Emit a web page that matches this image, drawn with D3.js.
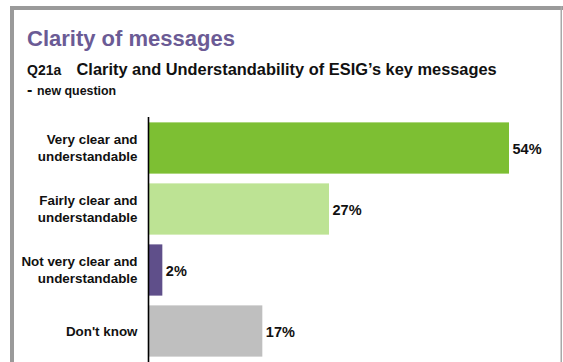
<!DOCTYPE html>
<html>
<head>
<meta charset="utf-8">
<script src="https://cdn.jsdelivr.net/npm/d3@7"></script>
<style>
  html, body { margin: 0; padding: 0; background: #ffffff; }
  svg { display: block; font-family: "Liberation Sans", Arial, sans-serif; }
</style>
</head>
<body>
<svg id="chart" width="563" height="362"></svg>
<script>
// Survey answers (Q21a), share of respondents in percent
const categories = [
  "Very clear and\nunderstandable",
  "Fairly clear and\nunderstandable",
  "Not very clear and\nunderstandable",
  "Don't know"
];
const values = [54, 27, 2, 17];
const barColors = ["#7dbf33", "#bde394", "#5f4f8a", "#bfbfbf"];

const titleText = "Clarity of messages";
const questionCode = "Q21a";
const questionText = "Clarity and Understandability of ESIG\u2019s key messages";
const noteText = "new question";

const svg = d3.select("#chart");

// slide frame (left, top and right edges)
svg.append("rect").attr("x", 10).attr("y", 6).attr("width", 4).attr("height", 360).attr("fill", "#9a9a9a");
svg.append("rect").attr("x", 10).attr("y", 6).attr("width", 553).attr("height", 4).attr("fill", "#9a9a9a");
svg.append("rect").attr("x", 560.5).attr("y", 6).attr("width", 1.5).attr("height", 360).attr("fill", "#a8a8a8");

// headings
svg.append("text").attr("x", 27).attr("y", 46)
  .attr("font-size", 22).attr("font-weight", "bold").attr("fill", "#6b5b95")
  .text(titleText);

const sub = svg.append("text").attr("x", 27).attr("y", 75).attr("font-weight", "bold").attr("fill", "#111");
sub.append("tspan").attr("font-size", 14).text(questionCode);
sub.append("tspan").attr("x", 76.5).attr("font-size", 16.4).text(questionText);

const note = svg.append("text").attr("x", 27).attr("y", 95).attr("font-weight", "bold").attr("fill", "#111");
note.append("tspan").attr("font-size", 16).text("-");
note.append("tspan").attr("x", 37).attr("font-size", 12.4).text(noteText);

// scales
const x = d3.scaleLinear().domain([0, 54]).range([149, 509]);
const y = d3.scaleBand().domain(categories).range([117.5, 361.5])
  .paddingInner(0.16).paddingOuter(0.08);

// bars
svg.append("g").selectAll("rect")
  .data(values)
  .join("rect")
  .attr("x", x(0))
  .attr("y", (d, i) => y(categories[i]))
  .attr("width", d => x(d) - x(0))
  .attr("height", y.bandwidth())
  .attr("fill", (d, i) => barColors[i]);

// value labels
svg.append("g").selectAll("text")
  .data(values)
  .join("text")
  .attr("x", d => x(d) + 3.5)
  .attr("y", (d, i) => y(categories[i]) + y.bandwidth() / 2 + 6)
  .attr("font-size", 14.5).attr("font-weight", "bold").attr("fill", "#111")
  .text(d => d + "%");

// category axis
const axis = svg.append("g").attr("transform", "translate(148.5,0)")
  .call(d3.axisLeft(y).tickSize(0).tickPadding(11).tickFormat(""));
axis.select(".domain").attr("stroke", "#000").attr("stroke-width", 1.6)
  .attr("d", "M0,117V362");

axis.selectAll(".tick").each(function (d) {
  const lines = d.split("\n");
  const t = d3.select(this).select("text")
    .attr("x", -11).attr("y", 0).attr("dy", null)
    .attr("font-size", 13.4).attr("font-weight", "bold").attr("fill", "#111")
    .attr("font-family", "Liberation Sans, Arial, sans-serif")
    .attr("text-anchor", "end");
  const first = lines.length === 1 ? 4.5 : -3.7;
  lines.forEach((ln, k) => {
    t.append("tspan").attr("x", -11).attr("y", first + k * 16.4).text(ln);
  });
});
</script>
</body>
</html>
